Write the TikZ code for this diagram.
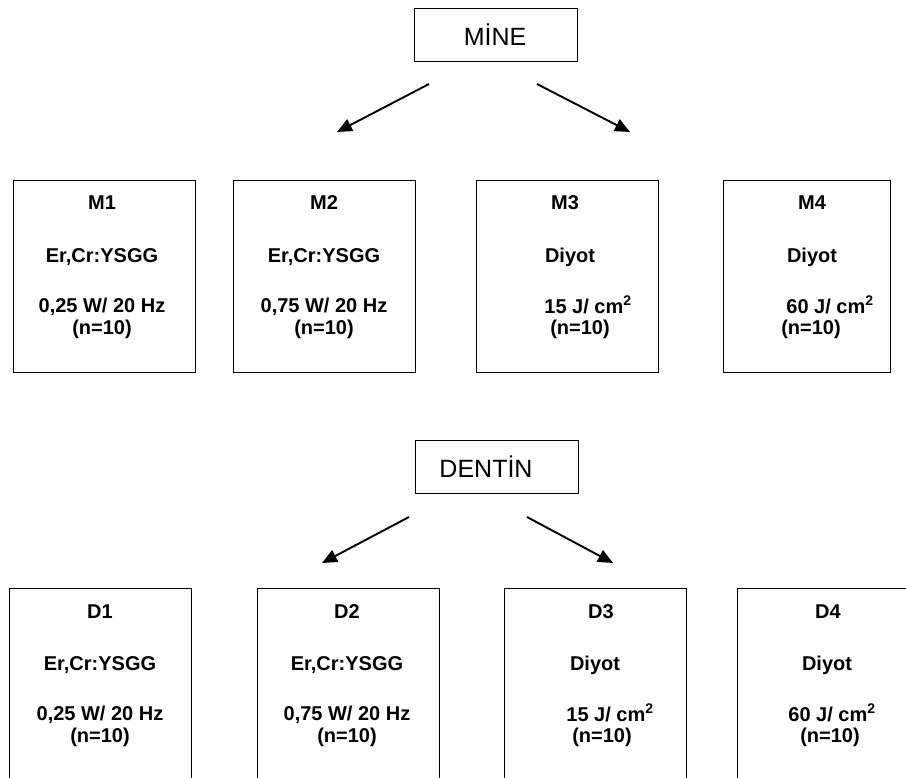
\documentclass[tikz,border=0pt]{standalone}
\usepackage{fontspec}
\setmainfont{Liberation Sans}
\usetikzlibrary{arrows.meta}
\begin{document}
\begin{tikzpicture}[x=1pt,y=-1pt,
  box/.style={draw, line width=1.3pt, minimum width=182pt, minimum height=192pt, anchor=north west, inner sep=0pt},
  hbox/.style={draw, line width=1.3pt, minimum width=163pt, minimum height=53pt, anchor=north west, inner sep=0pt},
  htxt/.style={font=\fontsize{25}{29}\selectfont, inner sep=0pt},
  txt/.style={font=\bfseries\fontsize{20}{24}\selectfont, inner sep=0pt},
  arr/.style={line width=1.9pt, -{Triangle[length=15pt,width=13pt]}}]
\clip (0,0) rectangle (906,778);
% header boxes
\node[hbox] (mine) at (414,8) {};
\node[htxt] (minet) at (495,35) {MİNE};
\node[hbox] (dentin) at (415,440) {};
\node[htxt] (dentint) at (486,467) {DENTİN};
% arrows
\coordinate (ma1) at (429,84);  \coordinate (mb1) at (337,132);
\coordinate (ma2) at (537,84);  \coordinate (mb2) at (630,132);
\coordinate (da1) at (409,517); \coordinate (db1) at (322,563);
\coordinate (da2) at (527,517); \coordinate (db2) at (613,563);
\draw[arr] (ma1) -- (mb1);
\draw[arr] (ma2) -- (mb2);
\draw[arr] (da1) -- (db1);
\draw[arr] (da2) -- (db2);
% top boxes
\node[box] (M1) at (13,180) {};
\node[box] (M2) at (233,180) {};
\node[box] (M3) at (476,180) {};
\node[box, minimum width=167pt] (M4) at (723,180) {};
\node[txt] (M1a) at (102,203) {M1};
\node[txt] (M1b) at (102,257) {Er,Cr:YSGG};
\node[txt] (M1c) at (102,307) {0,25 W/ 20 Hz};
\node[txt] (M1d) at (102,329) {(n=10)};
\node[txt] (M2a) at (324,203) {M2};
\node[txt] (M2b) at (324,257) {Er,Cr:YSGG};
\node[txt] (M2c) at (324,307) {0,75 W/ 20 Hz};
\node[txt] (M2d) at (324,329) {(n=10)};
\node[txt] (M3a) at (565,203) {M3};
\node[txt] (M3b) at (570,257) {Diyot};
\node[txt] (M3c) at (588,305) {15 J/ cm\textsuperscript{2}};
\node[txt] (M3d) at (580,329) {(n=10)};
\node[txt] (M4a) at (812,203) {M4};
\node[txt] (M4b) at (812,257) {Diyot};
\node[txt] (M4c) at (830,305) {60 J/ cm\textsuperscript{2}};
\node[txt] (M4d) at (811,329) {(n=10)};
% bottom boxes
\node[box] (D1) at (9,588) {};
\node[box] (D2) at (257,588) {};
\node[box] (D3) at (504,588) {};
\node[box] (D4) at (737,588) {};
\node[txt] (D1a) at (100,612) {D1};
\node[txt] (D1b) at (100,665) {Er,Cr:YSGG};
\node[txt] (D1c) at (100,715) {0,25 W/ 20 Hz};
\node[txt] (D1d) at (100,737) {(n=10)};
\node[txt] (D2a) at (347,612) {D2};
\node[txt] (D2b) at (347,665) {Er,Cr:YSGG};
\node[txt] (D2c) at (347,715) {0,75 W/ 20 Hz};
\node[txt] (D2d) at (347,737) {(n=10)};
\node[txt] (D3a) at (601,612) {D3};
\node[txt] (D3b) at (595,665) {Diyot};
\node[txt] (D3c) at (610,713) {15 J/ cm\textsuperscript{2}};
\node[txt] (D3d) at (602,737) {(n=10)};
\node[txt] (D4a) at (828,612) {D4};
\node[txt] (D4b) at (827,665) {Diyot};
\node[txt] (D4c) at (832,713) {60 J/ cm\textsuperscript{2}};
\node[txt] (D4d) at (830,737) {(n=10)};
\end{tikzpicture}
\end{document}
